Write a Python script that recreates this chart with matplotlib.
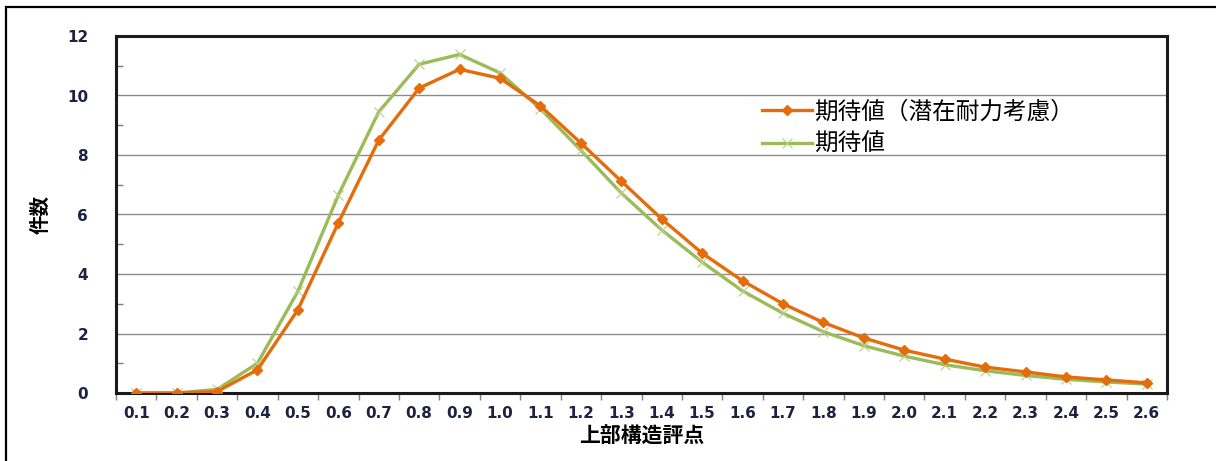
import matplotlib
matplotlib.use("Agg")
import matplotlib.pyplot as plt
from matplotlib.patches import Rectangle
import numpy as np

plt.rcParams['font.family'] = ['Noto Sans CJK JP', 'DejaVu Sans']

categories = ["0.1", "0.2", "0.3", "0.4", "0.5", "0.6", "0.7", "0.8", "0.9", "1.0",
              "1.1", "1.2", "1.3", "1.4", "1.5", "1.6", "1.7", "1.8", "1.9", "2.0",
              "2.1", "2.2", "2.3", "2.4", "2.5", "2.6"]
expected_latent = [0.0, 0.0, 0.05, 0.78, 2.8, 5.72, 8.5, 10.25, 10.88, 10.58,
                   9.65, 8.4, 7.12, 5.85, 4.7, 3.77, 3.0, 2.37, 1.85, 1.44,
                   1.14, 0.87, 0.71, 0.54, 0.44, 0.34]
expected = [0.0, 0.0, 0.12, 1.0, 3.42, 6.65, 9.45, 11.05, 11.38, 10.76,
            9.55, 8.16, 6.72, 5.48, 4.4, 3.43, 2.68, 2.06, 1.59, 1.24,
            0.95, 0.75, 0.59, 0.46, 0.37, 0.3]
series_names = ["期待値（潜在耐力考慮）", "期待値"]
y_ticks = [0, 2, 4, 6, 8, 10, 12]

W, H = 1216, 461
fig = plt.figure(figsize=(W / 100, H / 100), dpi=100)
fig.patch.set_facecolor('white')

# outer frame
fig.patches.append(Rectangle((6 / W, -0.05), 1.2, (461 - 7) / H + 0.05,
                             transform=fig.transFigure, fill=False,
                             edgecolor='black', linewidth=1.6))

ax = fig.add_axes([116 / W, (H - 393) / H, (1167 - 116) / W, (393 - 36) / H])

x = np.arange(len(categories))
orange = '#E46C0A'
green = '#9BBB59'

ax.plot(x, expected_latent, color=orange, linewidth=2.4, marker='D',
        markersize=5.5, markerfacecolor=orange, markeredgecolor=orange,
        label=series_names[0], zorder=4)
ax.plot(x, expected, color=green, linewidth=2.4, marker='x',
        markersize=7, markeredgewidth=0.8, markeredgecolor='#b8d08a',
        label=series_names[1], zorder=3)

ax.set_xlim(-0.5, len(categories) - 0.5)
ax.set_ylim(0, 12)

# y axis
ax.set_yticks(y_ticks)
ax.set_yticklabels([str(v) for v in y_ticks], fontsize=11, fontweight='bold',
                   color='#1c2340', family='DejaVu Sans')
ax.set_yticks(np.arange(1, 12, 2), minor=True)
ax.tick_params(axis='y', which='major', length=0, pad=20)
ax.tick_params(axis='y', which='minor', direction='in', length=5,
               color='#808080', width=1)
ax.yaxis.grid(True, which='major', color='#8c8c8c', linewidth=1)
ax.set_axisbelow(True)

# x axis
ax.set_xticks(x)
ax.set_xticklabels(categories, fontsize=11, fontweight='bold',
                   color='#1c2340', family='DejaVu Sans')
ax.set_xticks(np.arange(-0.5, len(categories), 1.0), minor=True)
ax.tick_params(axis='x', which='major', length=0, pad=9)
ax.tick_params(axis='x', which='minor', direction='out', length=5,
               color='#808080', width=1)

for s in ['left', 'bottom', 'top', 'right']:
    ax.spines[s].set_linewidth(2.2)
    ax.spines[s].set_color('#1a1a1a')

ax.set_xlabel("上部構造評点", fontsize=15, fontweight='bold', labelpad=4)
ax.set_ylabel("件数", fontsize=14, fontweight='bold')
ax.yaxis.set_label_coords(-0.062, 0.50)

leg = ax.legend(loc='upper left', bbox_to_anchor=(0.615, 0.82), frameon=False,
                fontsize=17, handlelength=2.1, handletextpad=0.1,
                labelspacing=0.42, borderaxespad=0, borderpad=0)

fig.savefig("out.png", dpi=100, facecolor='white')
